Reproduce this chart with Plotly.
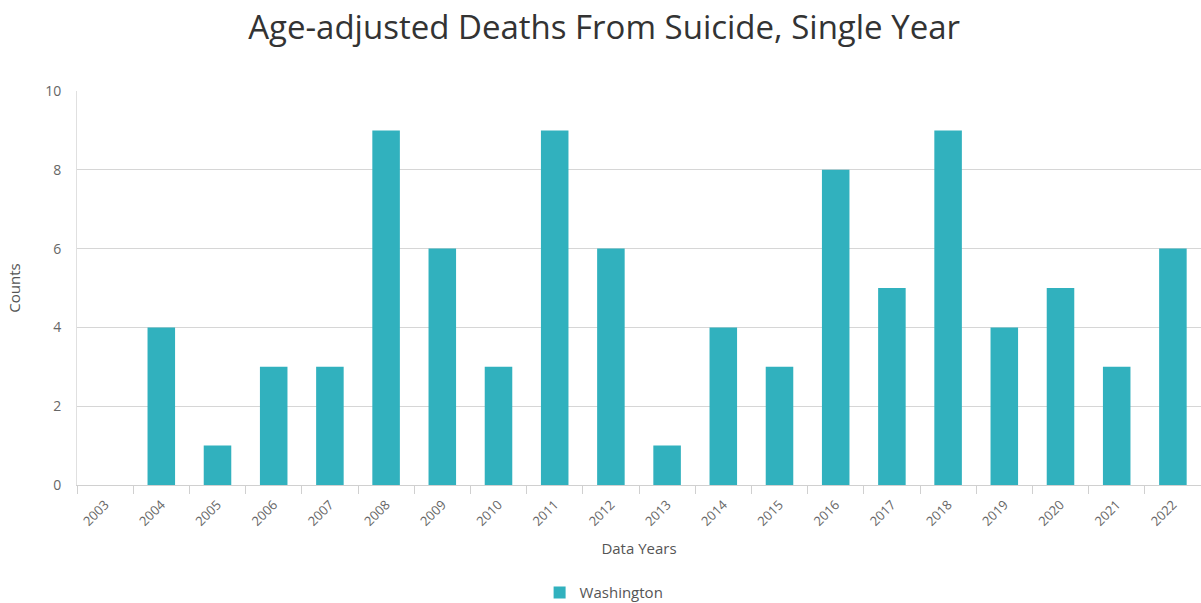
import plotly.graph_objects as go

years = ["2003", "2004", "2005", "2006", "2007", "2008", "2009", "2010", "2011", "2012",
         "2013", "2014", "2015", "2016", "2017", "2018", "2019", "2020", "2021", "2022"]
counts = [0, 4, 1, 3, 3, 9, 6, 3, 9, 6, 1, 4, 3, 8, 5, 9, 4, 5, 3, 6]
y_ticks = [0, 2, 4, 6, 8, 10]

font_family = "Open Sans, Noto Sans, sans-serif"

fig = go.Figure()
fig.add_trace(go.Bar(
    x=years, y=counts, name="Washington",
    marker=dict(color="#31b1be", line=dict(width=0)),
    width=0.49,
))

fig.update_layout(
    width=1201, height=603,
    margin=dict(l=77, r=0, t=91, b=118),
    paper_bgcolor="white", plot_bgcolor="white",
    font=dict(family=font_family, color="#555555"),
    title=dict(text="Age-adjusted Deaths From Suicide, Single Year",
               x=0.503, xanchor="center", xref="container",
               y=0.955, yanchor="middle", yref="container",
               font=dict(size=33, color="#333333", family=font_family)),
    showlegend=True,
    legend=dict(orientation="h", x=0.503, xanchor="center", xref="container",
                y=0.017, yanchor="middle", yref="container",
                font=dict(size=15, color="#555555")),
    bargap=0.5,
)
fig.update_xaxes(
    type="category", showline=True, linecolor="#d0d0d0", linewidth=1,
    ticks="outside", tickson="boundaries", ticklen=8, tickcolor="#d0d0d0",
    tickangle=-45, tickfont=dict(size=13, color="#666666"), ticklabelstandoff=6,
    showgrid=False,
    title=dict(text="Data Years", font=dict(size=15, color="#555555"), standoff=14),
)
fig.update_yaxes(
    range=[0, 10], tickvals=y_ticks, showgrid=True, gridcolor="#d6d6d6",
    zeroline=False, showline=True, linecolor="#e0e0e0",
    tickfont=dict(size=14, color="#666666"), ticks="", ticklabelstandoff=12,
    title=dict(text="Counts", font=dict(size=15, color="#555555"), standoff=20),
)

fig.write_html("out.html")
